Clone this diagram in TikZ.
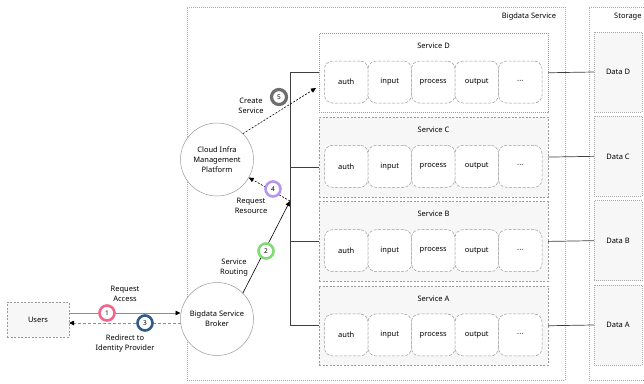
\documentclass[tikz,border=0pt]{standalone}
\usepackage{fontspec}
\setmainfont{Noto Sans}
\usetikzlibrary{arrows.meta,calc}

\definecolor{edgegray}{HTML}{A8A8A8}
\definecolor{boxgray}{HTML}{9A9A9A}
\definecolor{panelfill}{HTML}{F7F7F7}
\definecolor{linkgray}{HTML}{3F3F3F}
\definecolor{arrowgray}{HTML}{8C8C8C}
\definecolor{stepone}{HTML}{F2668B}
\definecolor{steptwo}{HTML}{7FDB72}
\definecolor{stepthree}{HTML}{2F5C86}
\definecolor{stepfour}{HTML}{B895F2}
\definecolor{stepfive}{HTML}{6E6E6E}

\tikzset{
  container/.style={draw=edgegray, line width=0.6pt, dash pattern=on 1pt off 1pt,
    inner sep=0pt, outer sep=0pt},
  svcopen/.style={draw=boxgray, line width=0.5pt, dash pattern=on 1pt off 1pt, fill=white,
    minimum width=229pt, minimum height=79.5pt, inner sep=0pt, outer sep=0pt},
  svcfilled/.style={draw=boxgray, line width=0.5pt, dash pattern=on 2pt off 1.5pt, fill=panelfill,
    minimum width=229pt, minimum height=79.5pt, inner sep=0pt, outer sep=0pt},
  part/.style={draw=boxgray, line width=0.5pt, dash pattern=on 3pt off 1.5pt, fill=white,
    rounded corners=8pt, minimum width=43.5pt, minimum height=42pt, inner sep=0pt, outer sep=0pt},
  datab/.style={draw=edgegray, line width=0.5pt, dash pattern=on 1pt off 1pt, fill=panelfill,
    minimum width=48pt, minimum height=80pt, inner sep=0pt, outer sep=0pt},
  userbox/.style={draw=boxgray, line width=0.5pt, dash pattern=on 2pt off 1.5pt, fill=panelfill,
    minimum width=62pt, minimum height=35pt, inner sep=0pt, outer sep=0pt},
  actor/.style={circle, draw=boxgray, line width=0.5pt, fill=white,
    minimum size=73pt, inner sep=0pt, outer sep=0pt, align=center},
  caption/.style={inner sep=0pt, align=center},
  link/.style={draw=linkgray, line width=0.7pt},
  tip/.style={-{Triangle[length=5pt,width=4.5pt,color=black]}},
  badge/.style={circle, draw=#1, line width=2.6pt, fill=white, minimum size=15pt,
    inner sep=0pt, font=\fontsize{6.5}{7}\selectfont\bfseries},
}

\begin{document}
\begin{tikzpicture}[x=1pt, y=-1pt, font=\fontsize{7.5}{10}\selectfont]
\useasboundingbox (0,0) rectangle (644,383);

% outer groups
\node[container, minimum width=378pt, minimum height=373pt, anchor=north west] (bigdata) at (187,7) {};
\node[caption] (bigdatatitle) at (529,17) {Bigdata Service};
\node[container, minimum width=70pt, minimum height=373pt, anchor=north west] (storage) at (589,7) {};
\node[caption, anchor=west] (storagetitle) at (614,17) {Storage};

% service pipelines and their data stores
\foreach \n/\k/\st in {D/0/svcopen,C/1/svcfilled,B/2/svcfilled,A/3/svcfilled}{
  \pgfmathsetmacro{\ytop}{33+84.33*\k}
  \node[\st, anchor=north west] (svc\n) at (319,\ytop) {};
  \node[caption] (svc\n title) at (433.5,\ytop+12.5) {Service \n};
  \foreach \lbl [count=\i] in {auth,input,process,output,···}{
    \node[part, anchor=north west] (svc\n-\i) at ({324.5+43.5*(\i-1)},\ytop+28) {\lbl};
  }
  \node[datab, anchor=north west] (data\n) at (594,\ytop-1) {Data \n};
  \draw[link] (svc\n.east) -- (data\n.west);
}

% routing bus on the left of the services
\path (svcD.west) ++(-29,0) coordinate (bustop);
\path (svcA.west) ++(-29,0) coordinate (busbot);
\coordinate (svcCin) at ([yshift=-10pt]svcC.west);
\draw[link] (svcD.west) -- (bustop) -- (busbot) -- (svcA.west);
\draw[link] (svcCin) -- (svcCin -| bustop);
\draw[link] (svcB.west) -- (svcB.west -| bustop);
\coordinate (hub) at (290,201);
\coordinate (newsvc) at (316,88);

% actors
\node[userbox] (users) at (38,319.5) {Users};
\node[actor] (broker) at (217,319) {Bigdata Service\\Broker};
\node[actor] (cloud) at (217,159.5) {Cloud Infra\\Management\\Platform};

% flows
\coordinate (reqline) at ([yshift=6.5pt]users.east);
\coordinate (redirline) at ([yshift=-3.5pt]users.east);
\draw[draw=arrowgray, line width=0.8pt, tip] (reqline) -- (reqline -| broker.west);
\draw[draw=arrowgray, line width=0.8pt, dash pattern=on 3pt off 2pt, tip] (redirline -| broker.west) -- (redirline);
\draw[draw=black, line width=0.6pt, tip] (broker.45) -- (hub);
\draw[draw=black, line width=0.6pt, dash pattern=on 2pt off 1.5pt, tip] (hub) -- (cloud);
\draw[draw=black, line width=0.6pt, dash pattern=on 2pt off 1.5pt, tip] (cloud.45) -- (newsvc);

% step labels
\node[caption] (reqtext) at (125,294) {Request\\Access};
\node[caption] (redirtext) at (125,344) {Redirect to\\Identity Provider};
\node[caption] (routetext) at (234,268) {Service\\Routing};
\node[caption] (restext) at (251,206) {Request\\Resource};
\node[caption] (createtext) at (251,106) {Create\\Service};

% numbered step markers
\node[badge=stepone] (step1) at (107,313) {1};
\node[badge=steptwo] (step2) at (266,251) {2};
\node[badge=stepthree] (step3) at (145,323) {3};
\node[badge=stepfour] (step4) at (273,189) {4};
\node[badge=stepfive, line width=3.2pt] (step5) at (279,97) {5};
\end{tikzpicture}
\end{document}
